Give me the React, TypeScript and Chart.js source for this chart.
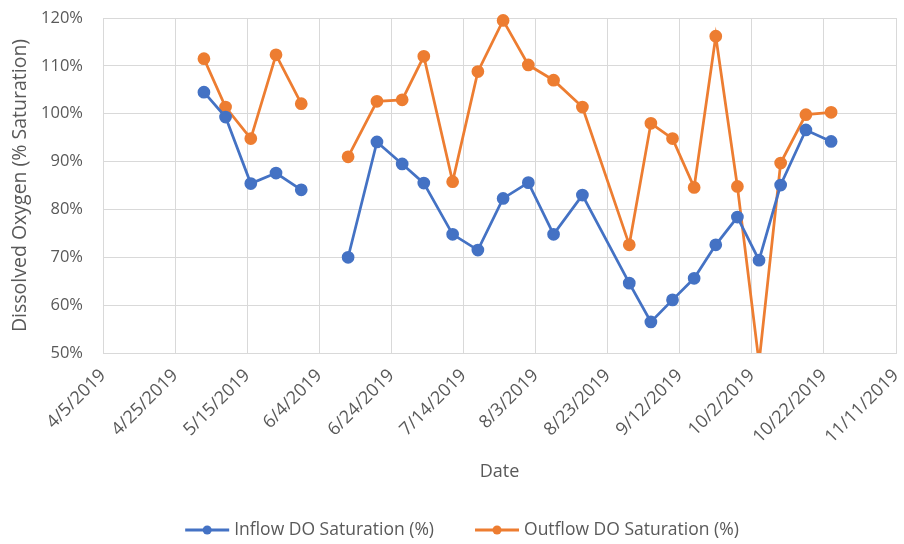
import React, { useEffect, useRef } from "react";
import { Chart, registerables } from "chart.js";

Chart.register(...registerables);

// ---- Data ----
const START_DATE = "4/5/2019";
const dates = [
  "5/3/2019", "5/9/2019", "5/16/2019", "5/23/2019", "5/30/2019", "6/5/2019",
  "6/12/2019", "6/20/2019", "6/27/2019", "7/3/2019", "7/11/2019", "7/18/2019",
  "7/25/2019", "8/1/2019", "8/8/2019", "8/16/2019", "8/29/2019", "9/4/2019",
  "9/10/2019", "9/16/2019", "9/22/2019", "9/28/2019", "10/4/2019", "10/10/2019",
  "10/17/2019", "10/24/2019",
];
const inflow: (number | null)[] = [
  104.5, 99.3, 85.4, 87.6, 84.1, null,
  70.0, 94.1, 89.5, 85.5, 74.8, 71.5,
  82.3, 85.6, 74.8, 83.0, 64.6, 56.5,
  61.1, 65.6, 72.6, 78.4, 69.4, 85.1,
  96.6, 94.2,
];
const outflow: (number | null)[] = [
  111.5, 101.4, 94.8, 112.3, 102.1, null,
  91.0, 102.6, 102.9, 112.0, 85.8, 108.8,
  119.5, 110.2, 107.0, 101.4, 72.6, 98.0,
  94.8, 84.6, 116.2, 84.8, 48.0, 89.7,
  99.8, 100.3,
];
const seriesNames = ["Inflow DO Saturation (%)", "Outflow DO Saturation (%)"];
const xAxisTitle = "Date";
const yAxisTitle = "Dissolved Oxygen (% Saturation)";
const xTickDays = { min: 0, max: 220, step: 20 };
const yTicks = { min: 50, max: 120, step: 10 };

const BLUE = "#4472C4";
const ORANGE = "#ED7D31";
const TEXT = "#595959";
const GRID = "#d9d9d9";
const FONT = "'Open Sans', 'Noto Sans', sans-serif";

function parseDate(s: string): number {
  const [m, d, y] = s.split("/").map(Number);
  return Date.UTC(y, m - 1, d);
}
const startMs = parseDate(START_DATE);
function toDay(s: string): number {
  return Math.round((parseDate(s) - startMs) / 86400000);
}
function dayLabel(v: number): string {
  const dt = new Date(startMs + v * 86400000);
  return `${dt.getUTCMonth() + 1}/${dt.getUTCDate()}/${dt.getUTCFullYear()}`;
}

const legendPlugin = {
  id: "lineMarkerLegend",
  afterDraw(chart: any) {
    const ctx = chart.ctx as CanvasRenderingContext2D;
    ctx.save();
    ctx.font = `17.5px ${FONT}`;
    ctx.textBaseline = "middle";
    const y = 530;
    const lineW = 44;
    const gapText = 5;
    const gapItems = 41;
    const items = chart.data.datasets.map((ds: any) => ({
      label: ds.label,
      color: ds.borderColor,
      w: lineW + gapText + ctx.measureText(ds.label).width,
    }));
    const total = items.reduce((a: number, it: any) => a + it.w, 0) + gapItems * (items.length - 1);
    let x = 462 - total / 2;
    for (const it of items) {
      ctx.strokeStyle = it.color;
      ctx.lineWidth = 3;
      ctx.beginPath();
      ctx.moveTo(x, y);
      ctx.lineTo(x + lineW, y);
      ctx.stroke();
      ctx.fillStyle = it.color;
      ctx.beginPath();
      ctx.arc(x + lineW / 2, y, 4.5, 0, Math.PI * 2);
      ctx.fill();
      ctx.fillStyle = TEXT;
      ctx.fillText(it.label, x + lineW + gapText, y);
      x += it.w + gapItems;
    }
    ctx.restore();
  },
};

export default function App() {
  const ref = useRef<HTMLCanvasElement>(null);
  useEffect(() => {
    document.body.style.margin = "0";
    const days = dates.map(toDay);
    const mk = (vals: (number | null)[]) => days.map((x, i) => ({ x, y: vals[i] }));
    const clip = { left: 10, top: 10, right: 10, bottom: 0 } as any;
    const chart = new Chart(ref.current!, {
      type: "line",
      data: {
        datasets: [
          {
            label: seriesNames[0],
            data: mk(inflow) as any,
            borderColor: BLUE,
            backgroundColor: BLUE,
            borderWidth: 2.75,
            pointRadius: 5,
            pointBackgroundColor: BLUE,
            pointBorderColor: BLUE,
            spanGaps: false,
            clip,
          },
          {
            label: seriesNames[1],
            data: mk(outflow) as any,
            borderColor: ORANGE,
            backgroundColor: ORANGE,
            borderWidth: 2.75,
            pointRadius: 5,
            pointBackgroundColor: ORANGE,
            pointBorderColor: ORANGE,
            spanGaps: false,
            clip,
          },
        ],
      },
      options: {
        animation: false,
        responsive: false,
        layout: { padding: { left: 8, top: 18, right: 8, bottom: 60 } },
        plugins: {
          legend: { display: false },
          tooltip: { enabled: false },
        },
        scales: {
          x: {
            type: "linear",
            min: xTickDays.min,
            max: xTickDays.max,
            afterFit: (s: any) => {
              s.height = 544 - 60 - 353;
              s.paddingLeft = 0;
              s.paddingRight = 0;
            },
            ticks: {
              stepSize: xTickDays.step,
              minRotation: 45,
              maxRotation: 45,
              color: TEXT,
              font: { family: FONT, size: 18 },
              padding: 12,
              callback: (v: any) => dayLabel(Number(v)),
            },
            grid: { color: GRID, lineWidth: 1, drawTicks: false },
            border: { color: GRID },
            title: {
              display: true,
              text: xAxisTitle,
              color: TEXT,
              font: { family: FONT, size: 18 },
              padding: { top: 4, bottom: 1 },
            },
          },
          y: {
            min: yTicks.min,
            max: yTicks.max,
            afterFit: (s: any) => {
              s.width = 103 - 8;
              s.paddingTop = 0;
              s.paddingBottom = 0;
            },
            ticks: {
              stepSize: yTicks.step,
              color: TEXT,
              font: { family: FONT, size: 16.5 },
              padding: 20,
              callback: (v: any) => `${v}%`,
            },
            grid: { color: GRID, lineWidth: 1, drawTicks: false },
            border: { color: GRID },
            title: {
              display: true,
              text: yAxisTitle,
              color: TEXT,
              font: { family: FONT, size: 19.5 },
              padding: { top: 1, bottom: 2 },
            },
          },
        },
      },
      plugins: [legendPlugin],
    });
    return () => chart.destroy();
  }, []);
  return <canvas ref={ref} width={904} height={544} style={{ display: "block" }} />;
}
